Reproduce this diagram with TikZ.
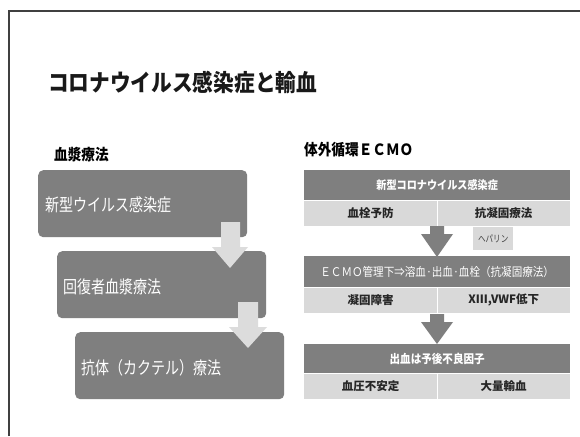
\documentclass[tikz,border=0pt]{standalone}
\usepackage{fontspec}
\setmainfont{Noto Sans CJK JP}
\newfontfamily\condA{Noto Sans CJK JP}[FakeStretch=0.88]
\newfontfamily\condB{Noto Sans CJK JP}[FakeStretch=0.8]
\newcommand\myfs[1]{\fontsize{#1}{#1}\selectfont}
\definecolor{dgray}{HTML}{7F7F7F}
\definecolor{lgray}{HTML}{D9D9D9}
\definecolor{larrow}{HTML}{DCDCDC}
\definecolor{txt}{HTML}{262626}
\definecolor{framec}{HTML}{404040}
\tikzset{
  dk/.style={fill=dgray, text=white, inner sep=0pt, minimum width=266pt, anchor=north west},
  lt/.style={fill=lgray, text=txt, inner sep=0pt, minimum width=133pt, minimum height=26pt, anchor=north west, font=\bfseries\myfs{11.5}},
  lbox/.style={fill=dgray, rounded corners=5pt, inner sep=0pt, anchor=north west, minimum width=209pt, minimum height=67pt},
  ltext/.style={text=white, inner sep=0pt, anchor=west, font=\condB\myfs{17.5}},
  heading/.style={text=black, inner sep=0pt, anchor=west, font=\condA\bfseries\myfs{15.5}},
  sep/.style={white, line width=0.8pt},
}
\begin{document}
\begin{tikzpicture}[x=1pt,y=-1pt]
\useasboundingbox (0,0) rectangle (580,436);
\fill[white] (0,0) rectangle (580,436);
\draw[framec, line width=1.6pt] (9,436) -- (9,11) -- (580,11);

% title
\node[inner sep=0pt, anchor=west, font=\condA\bfseries\myfs{23.5}, text=black!90] (title) at (48,82) {コロナウイルス感染症と輸血};

% left side
\node[heading] (hl) at (54,155) {血漿療法};
\node[lbox] (p1) at (38,170) {};
\node[lbox] (p2) at (57,251) {};
\node[lbox] (p3) at (75,332) {};
\node[ltext] (t1) at (45,205) {新型ウイルス感染症};
\node[ltext] (t2) at (63,287) {回復者血漿療法};
\node[ltext] (t3) at (81,368) {抗体（カクテル）療法};
\fill[larrow] (221,222) -- (240,222) -- (240,247) -- (248,247) -- (230,268) -- (212,247) -- (221,247) -- cycle;
\fill[larrow] (238,302) -- (258,302) -- (258,327) -- (267,327) -- (248,348) -- (229,327) -- (238,327) -- cycle;

% right side
\node[heading] (hr) at (304,150) {体外循環ＥＣＭＯ};

\node[dk, minimum height=30pt, font=\condA\bfseries\myfs{11.5}] (r1) at (304,170) {新型コロナウイルス感染症};
\node[lt] (a1) at (304,200) {血栓予防};
\node[lt] (b1) at (437,200) {抗凝固療法};
\draw[sep] (r1.south west) -- (r1.south east);
\draw[sep] (a1.north east) -- (a1.south east);

\fill[dgray] (430,226) -- (444,226) -- (444,234) -- (453,234) -- (437,257) -- (421,234) -- (430,234) -- cycle;
\node[fill=lgray, inner sep=0pt, minimum width=40pt, minimum height=23pt, anchor=north west, font=\condB\myfs{9.5}, text=black!75] (hep) at (473,227) {ヘパリン};

\node[dk, minimum height=31pt, font=\condA\myfs{12}] (r2) at (304,256) {ＥＣＭＯ管理下⇒溶血·出血·血栓（抗凝固療法）};
\node[lt] (a2) at (304,287) {凝固障害};
\node[lt] (b2) at (437,287) {XIII,VWF低下};
\draw[sep] (r2.south west) -- (r2.south east);
\draw[sep] (a2.north east) -- (a2.south east);

\fill[dgray] (430,314) -- (444,314) -- (444,322) -- (453,322) -- (437,344) -- (421,322) -- (430,322) -- cycle;

\node[dk, minimum height=29pt, font=\condA\bfseries\myfs{12}] (r3) at (304,344) {出血は予後不良因子};
\node[lt] (a3) at (304,373) {血圧不安定};
\node[lt] (b3) at (437,373) {大量輸血};
\draw[sep] (r3.south west) -- (r3.south east);
\draw[sep] (a3.north east) -- (a3.south east);
\end{tikzpicture}
\end{document}
